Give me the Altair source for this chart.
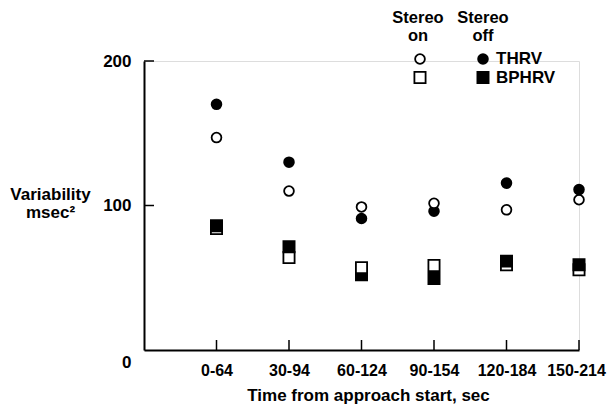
import altair as alt
import pandas as pd

# ---- data ----
intervals = ["0-64", "30-94", "60-124", "90-154", "120-184", "150-214"]
thrv_on = [147, 110, 99, 101.5, 97, 104]
thrv_off = [170, 130, 91, 96, 115.5, 111]
bphrv_on = [84, 64, 57, 58.5, 59, 55.5]
bphrv_off = [86, 71.5, 52, 49.5, 61.5, 59]
y_tick_values = [100, 200]
measures = ["THRV", "BPHRV"]
conditions = ["on", "off"]

rows = []
for measure, cond, vals in [("THRV", "on", thrv_on), ("THRV", "off", thrv_off),
                            ("BPHRV", "on", bphrv_on), ("BPHRV", "off", bphrv_off)]:
    for iv, v in zip(intervals, vals):
        rows.append({"interval": iv, "measure": measure, "stereo": cond, "value": v})
df = pd.DataFrame(rows)

FONT = "Liberation Sans"
FS = 17
W, H = 435, 289

xscale = alt.Scale(type="point", domain=intervals, paddingOuter=0.4875, align=1)
yscale = alt.Scale(domain=[0, 200])
shape_scale = alt.Scale(domain=measures, range=["circle", "square"])
fill_scale = alt.Scale(domain=conditions, range=["white", "black"])
size_scale = alt.Scale(domain=measures, range=[95, 125])

x_axis = alt.Axis(
    title="Time from approach start, sec", labelAngle=0, ticks=False, tickSize=0,
    labelPadding=12, labelFont=FONT, labelFontSize=16, labelFontWeight="bold",
    labelOffset={"condition": {"test": f"datum.value == '{intervals[-1]}'", "value": -3}, "value": 0},
    labelColor="black", domainColor="black", domainWidth=2, grid=False,
    titleFont=FONT, titleFontSize=FS, titleFontWeight="bold", titleColor="black",
    titleX=224, titleY=45, titleAlign="center", titleBaseline="middle", titleAnchor="start",
)
y_axis = alt.Axis(
    values=[0, 100, 200], title=["Variability", "msec²"], titleAngle=0,
    titleAlign="center", titleBaseline="top", titleX=-94, titleY=125, titleLineHeight=18,
    ticks=False, tickSize=0, labelPadding=13,
    labelOffset={"condition": {"test": "datum.value == 0", "value": 12}, "value": 0},
    labelFont=FONT, labelFontSize=FS, labelFontWeight="bold", labelColor="black",
    domainColor="black", domainWidth=2, grid=False,
    titleFont=FONT, titleFontSize=FS, titleFontWeight="bold", titleColor="black",
)

points = alt.Chart(df).mark_point(filled=True, stroke="black", strokeWidth=1.8, opacity=1).encode(
    x=alt.X("interval:N", scale=xscale, axis=x_axis, sort=intervals),
    y=alt.Y("value:Q", scale=yscale, axis=y_axis),
    shape=alt.Shape("measure:N", scale=shape_scale, legend=None),
    fill=alt.Fill("stereo:N", scale=fill_scale, legend=None),
    size=alt.Size("measure:N", scale=size_scale, legend=None),
    order=alt.Order("value:Q"),
)

xticks = alt.Chart(pd.DataFrame({"interval": intervals})).mark_rule(
    color="black", strokeWidth=1.5).encode(
    x=alt.X("interval:N", scale=xscale, sort=intervals),
    y=alt.value(H), y2=alt.value(H - 10),
)
yticks = alt.Chart(pd.DataFrame({"value": y_tick_values})).mark_rule(
    color="black", strokeWidth=1.5).encode(
    y=alt.Y("value:Q", scale=yscale),
    x=alt.value(0), x2=alt.value(10),
)

data_layer = alt.layer(points, xticks, yticks)

# ---- legend (drawn as decoration, pixel positions relative to plot) ----
leg_sym = pd.DataFrame({
    "px": [276, 276, 339, 339],
    "py": [-2, 16.5, -2, 16.5],
    "measure": ["THRV", "BPHRV", "THRV", "BPHRV"],
    "stereo": ["on", "on", "off", "off"],
})
leg_head = pd.DataFrame({
    "px": [274, 274, 339, 339],
    "py": [-43.5, -25, -43.5, -25],
    "label": ["Stereo", "on", "Stereo", "off"],
})
leg_lab = pd.DataFrame({
    "px": [352, 352],
    "py": [-2, 16.5],
    "label": measures,
})

sym = alt.Chart(leg_sym).mark_point(filled=True, stroke="black", strokeWidth=1.8, opacity=1).encode(
    x=alt.X("px:Q", scale=None, axis=None),
    y=alt.Y("py:Q", scale=None, axis=None),
    shape=alt.Shape("measure:N", scale=shape_scale, legend=None),
    fill=alt.Fill("stereo:N", scale=fill_scale, legend=None),
    size=alt.Size("measure:N", scale=size_scale, legend=None),
)
head = alt.Chart(leg_head).mark_text(
    font=FONT, fontSize=16.5, fontWeight="bold", color="black", align="center", baseline="middle"
).encode(
    x=alt.X("px:Q", scale=None, axis=None),
    y=alt.Y("py:Q", scale=None, axis=None),
    text="label:N",
)
lab = alt.Chart(leg_lab).mark_text(
    font=FONT, fontSize=FS, fontWeight="bold", color="black", align="left", baseline="middle"
).encode(
    x=alt.X("px:Q", scale=None, axis=None),
    y=alt.Y("py:Q", scale=None, axis=None),
    text="label:N",
)
legend_layer = alt.layer(sym, head, lab)

chart = alt.layer(data_layer, legend_layer).resolve_scale(
    x="independent", y="independent"
).properties(
    width=W, height=H,
    padding={"left": 136, "top": 53, "right": 29, "bottom": 54},
    autosize=alt.AutoSizeParams(type="none"),
).configure_view(stroke=None).configure(background="white")

chart.save("out.html", embed_options={"renderer": "svg", "actions": False})
